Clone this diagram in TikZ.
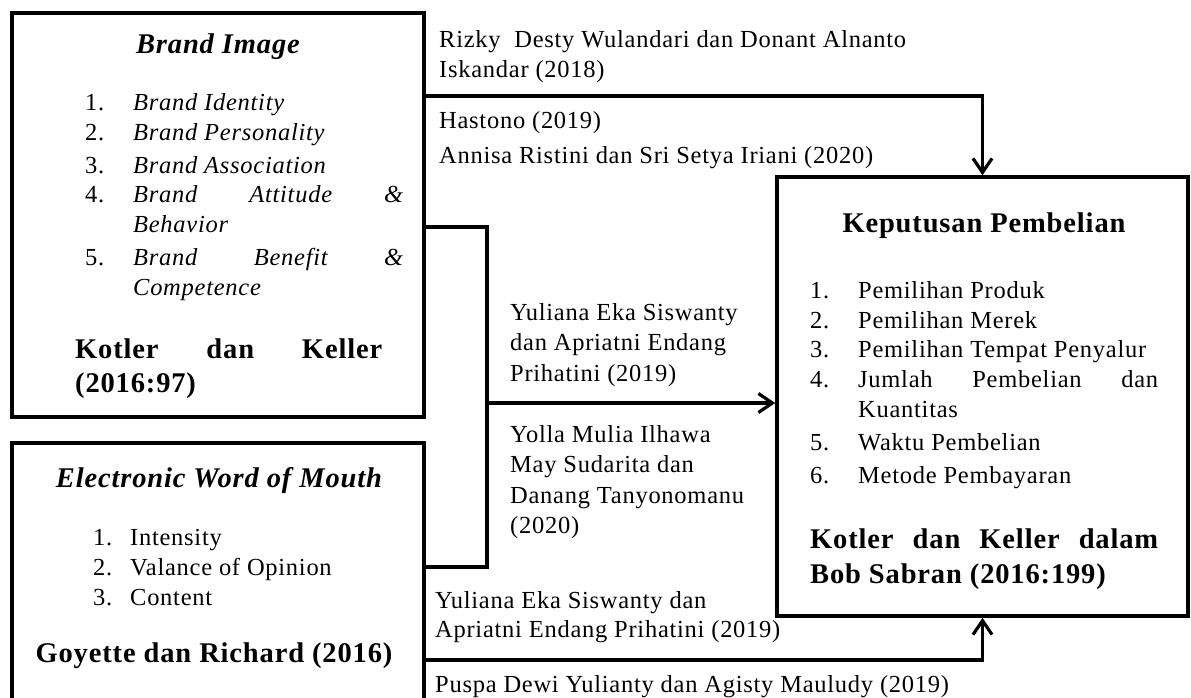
\documentclass[tikz,border=0pt]{standalone}
\usepackage{fontspec}
\setmainfont{Liberation Serif}[LetterSpace=3]
\usetikzlibrary{arrows.meta}
\begin{document}
\begin{tikzpicture}[x=1pt,y=-1pt,
  box/.style={draw,line width=3.5pt,inner sep=0pt},
  conn/.style={line width=3.2pt},
  arr/.style={conn,-{Straight Barb[length=14pt,width=19pt]}},
  txt/.style={anchor=base west,inner sep=0pt,font=\fontsize{24.5}{29}\selectfont},
  itxt/.style={txt,font=\fontsize{24.5}{29}\selectfont\itshape},
  btxt/.style={anchor=base west,inner sep=0pt,font=\fontsize{28.5}{33}\selectfont\bfseries},
  head/.style={anchor=base,inner sep=0pt,font=\fontsize{28.5}{33}\selectfont\bfseries},
  ihead/.style={anchor=base,inner sep=0pt,font=\fontsize{28.5}{33}\selectfont\bfseries\itshape}
]
\useasboundingbox (0,0) rectangle (1191,697);
\clip (0,0) rectangle (1191,697);

% boxes
\node[box,minimum width=412pt,minimum height=404pt] (brand) at (218,215) {};
\node[box,minimum width=412pt,minimum height=277pt] (ewom) at (218,581.5) {};
\node[box,minimum width=411pt,minimum height=439pt] (kep) at (982.5,396.5) {};

% Brand Image content
\node[ihead] (bh) at (218,53) {Brand Image};
\node[txt] (bn1) at (85,110) {1.};
\node[txt] (bn2) at (85,140) {2.};
\node[txt] (bn3) at (85,173) {3.};
\node[txt] (bn4) at (85,202) {4.};
\node[txt] (bn5) at (85,265) {5.};
\node[itxt] (bi1) at (133,110) {Brand Identity};
\node[itxt] (bi2) at (133,140) {Brand Personality};
\node[itxt] (bi3) at (133,173) {Brand Association};
\node[itxt] (bi4) at (133,202) {\makebox[270pt][s]{Brand Attitude \&}};
\node[itxt] (bi4b) at (133,232) {Behavior};
\node[itxt] (bi5) at (133,265) {\makebox[270pt][s]{Brand Benefit \&}};
\node[itxt] (bi5b) at (133,295) {Competence};
\node[btxt] (bs1) at (75,358) {\makebox[307pt][s]{Kotler dan Keller}};
\node[btxt] (bs2) at (75,392) {(2016:97)};

% EWOM content
\node[ihead] (eh) at (219,487) {Electronic Word of Mouth};
\node[txt] (en1) at (93,545) {1.};
\node[txt] (en2) at (93,575) {2.};
\node[txt] (en3) at (93,605) {3.};
\node[txt] (ei1) at (130,545) {Intensity};
\node[txt] (ei2) at (130,575) {Valance of Opinion};
\node[txt] (ei3) at (130,605) {Content};
\node[head] (es) at (214,662) {Goyette dan Richard (2016)};

% Keputusan content
\node[head] (kh) at (984,232) {Keputusan Pembelian};
\node[txt] (kn1) at (810,298) {1.};
\node[txt] (kn2) at (810,328) {2.};
\node[txt] (kn3) at (810,357) {3.};
\node[txt] (kn4) at (810,387) {4.};
\node[txt] (kn5) at (810,450) {5.};
\node[txt] (kn6) at (810,483) {6.};
\node[txt] (ki1) at (858,298) {Pemilihan Produk};
\node[txt] (ki2) at (858,328) {Pemilihan Merek};
\node[txt] (ki3) at (858,357) {Pemilihan Tempat Penyalur};
\node[txt] (ki4) at (858,387) {\makebox[300pt][s]{Jumlah Pembelian dan}};
\node[txt] (ki4b) at (858,417) {Kuantitas};
\node[txt] (ki5) at (858,450) {Waktu Pembelian};
\node[txt] (ki6) at (858,483) {Metode Pembayaran};
\node[btxt] (ks1) at (810,548) {\makebox[348pt][s]{Kotler dan Keller dalam}};
\node[btxt] (ks2) at (810,583) {Bob Sabran (2016:199)};

% connectors
\coordinate (yTop) at (0,96);
\coordinate (yBa) at (0,227);
\coordinate (yBb) at (0,567);
\coordinate (yMid) at (0,403);
\coordinate (yBot) at (0,660);
\coordinate (xJ) at (487,0);

\draw[arr] (brand.east |- yTop) -| (kep.north);
\draw[conn] (brand.east |- yBa) -- (xJ |- yBa) -- (xJ |- yBb) -- (ewom.east |- yBb);
\draw[arr] (xJ |- yMid) -- (kep.west |- yMid);
\draw[arr] (ewom.east |- yBot) -| (kep.south);

% connector labels
\node[txt] (l1) at (439,47) {Rizky\ \ Desty Wulandari dan Donant Alnanto};
\node[txt] (l2) at (439,77) {Iskandar (2018)};
\node[txt] (l3) at (439,128) {Hastono (2019)};
\node[txt] (l4) at (439,163) {Annisa Ristini dan Sri Setya Iriani (2020)};
\node[txt] (m1) at (510,320) {Yuliana Eka Siswanty};
\node[txt] (m2) at (510,350) {dan Apriatni Endang};
\node[txt] (m3) at (510,381) {Prihatini (2019)};
\node[txt] (m4) at (510,442) {Yolla Mulia Ilhawa};
\node[txt] (m5) at (510,472) {May Sudarita dan};
\node[txt] (m6) at (510,503) {Danang Tanyonomanu};
\node[txt] (m7) at (510,533) {(2020)};
\node[txt] (b1) at (435,608) {Yuliana Eka Siswanty dan};
\node[txt] (b2) at (435,637) {Apriatni Endang Prihatini (2019)};
\node[txt] (b3) at (435,692) {Puspa Dewi Yulianty dan Agisty Mauludy (2019)};
\end{tikzpicture}
\end{document}
